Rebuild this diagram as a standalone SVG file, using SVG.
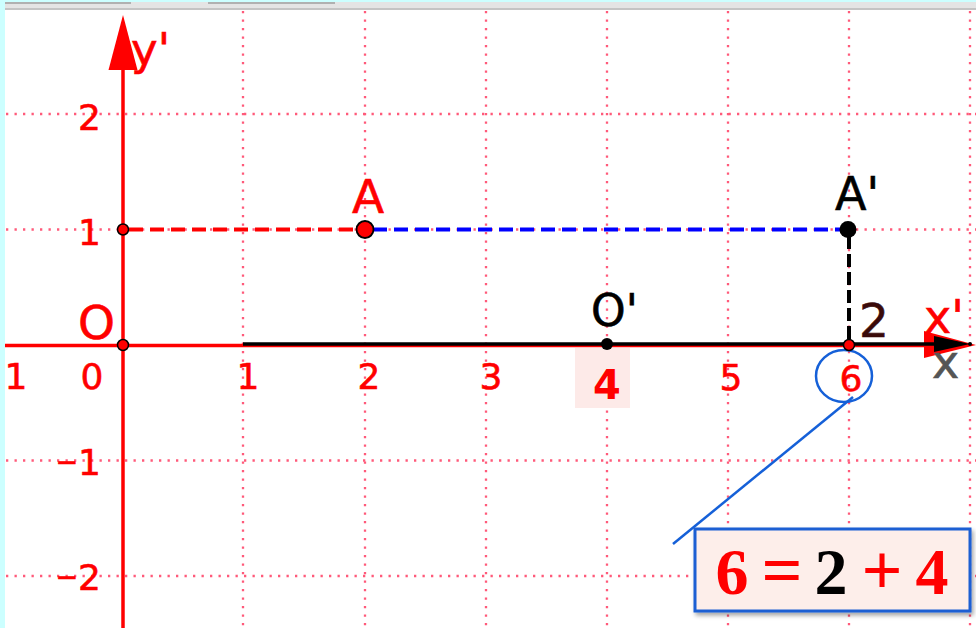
<svg xmlns="http://www.w3.org/2000/svg" width="976" height="628" viewBox="0 0 976 628">
<defs>
<style>
.grid{stroke:#ff5a7a;stroke-width:2.3;stroke-dasharray:2.3 6.2;fill:none}
.lab{font-family:"DejaVu Sans",sans-serif;stroke-width:0.6}
.tick{font-family:"DejaVu Sans",sans-serif;fill:#ff0000;stroke:#ff0000;stroke-width:0.6;font-size:36px}
.eq{font-family:"Liberation Serif",serif;font-weight:bold;font-size:66px;text-anchor:middle}
</style>
<filter id="sh" x="-10%" y="-10%" width="130%" height="140%">
<feDropShadow dx="2" dy="3" stdDeviation="2" flood-color="#000" flood-opacity="0.35"/>
</filter>
</defs>
<rect width="976" height="628" fill="#ffffff"/>
<rect x="0" y="0" width="976" height="2" fill="#ccffff"/>
<rect x="0" y="0" width="5" height="628" fill="#ccffff"/>
<rect x="5" y="2" width="971" height="7" fill="#e4e4e4"/>
<rect x="5" y="2" width="126" height="2" fill="#b0b0b0"/>
<rect x="208" y="2" width="127" height="2" fill="#b0b0b0"/>
<rect x="5" y="8" width="971" height="2" fill="#c4c4c4"/>
<g id="grid">
<line class="grid" x1="6" y1="114" x2="976" y2="114"/>
<line class="grid" x1="6" y1="229.5" x2="976" y2="229.5"/>
<line class="grid" x1="6" y1="460.5" x2="976" y2="460.5"/>
<line class="grid" x1="6" y1="576" x2="976" y2="576"/>
<line class="grid" x1="243" y1="11" x2="243" y2="628"/>
<line class="grid" x1="365" y1="11" x2="365" y2="628"/>
<line class="grid" x1="486" y1="11" x2="486" y2="628"/>
<line class="grid" x1="607" y1="11" x2="607" y2="628"/>
<line class="grid" x1="728" y1="11" x2="728" y2="628"/>
<line class="grid" x1="849" y1="11" x2="849" y2="628"/>
<line class="grid" x1="970" y1="11" x2="970" y2="628"/>
</g>
<g id="axes">
<line x1="123" y1="628" x2="123" y2="66" stroke="#ff0000" stroke-width="3.5"/>
<polygon points="123,15 108.5,70 137.5,70" fill="#ff0000"/>
<line x1="5" y1="345.5" x2="930" y2="345.5" stroke="#ff0000" stroke-width="3.5"/>
<polygon points="924,331 976,345 924,358" fill="#ff0000"/>
<line x1="243" y1="344" x2="940" y2="344" stroke="#000000" stroke-width="3.5"/>
<polygon points="934,336 970,344 934,352" fill="#000000"/>
<circle cx="970" cy="344" r="2" fill="#000"/>
</g>
<g id="connectors">
<line x1="129" y1="229.5" x2="365" y2="229.5" stroke="#ff0000" stroke-width="4" stroke-dasharray="14 7"/>
<line x1="373" y1="229.5" x2="849" y2="229.5" stroke="#0000ff" stroke-width="4" stroke-dasharray="14 7"/>
<line x1="849" y1="236" x2="849" y2="345" stroke="#000000" stroke-width="4" stroke-dasharray="13 5"/>
<line x1="853" y1="397" x2="673" y2="544" stroke="#1560d8" stroke-width="2.5"/>
</g>
<g id="ticks">
<text class="tick" x="16" y="389" text-anchor="middle">1</text>
<text class="tick" x="92" y="389" text-anchor="middle">0</text>
<text class="tick" x="248" y="389" text-anchor="middle">1</text>
<text class="tick" x="369" y="389" text-anchor="middle">2</text>
<text class="tick" x="491" y="389" text-anchor="middle">3</text>
<text class="tick" x="731" y="390" text-anchor="middle">5</text>
<text class="tick" x="851" y="391" text-anchor="middle">6</text>
<text class="tick" x="101" y="130" text-anchor="end">2</text>
<text class="tick" x="101" y="245" text-anchor="end">1</text>
<text class="tick" x="101" y="475" text-anchor="end"><tspan font-size="27" dy="-4">−</tspan><tspan dy="4">1</tspan></text>
<text class="tick" x="101" y="590" text-anchor="end"><tspan font-size="27" dy="-4">−</tspan><tspan dy="4">2</tspan></text>
</g>
<g id="tick4">
<rect x="575" y="348" width="55" height="60" fill="#fdeae8"/>
<text x="607" y="399" text-anchor="middle" font-family="DejaVu Sans, sans-serif" font-weight="bold" font-size="40" fill="#ff0000">4</text>
</g>
<g id="circle6">
<ellipse cx="844" cy="376" rx="28" ry="26" fill="none" stroke="#1560d8" stroke-width="2.5"/>
</g>
<g id="P1">
<circle cx="123" cy="229.5" r="5.5" fill="#ff0000" stroke="#000" stroke-width="1.5"/>
</g>
<g id="A">
<circle cx="365" cy="229.5" r="8.5" fill="#ff0000" stroke="#000" stroke-width="1.8"/>
<text class="lab" x="368" y="213" text-anchor="middle" font-size="47" fill="#ff0000" stroke="#ff0000">A</text>
</g>
<g id="Aprime">
<circle cx="848" cy="229.5" r="8.5" fill="#000"/>
<text class="lab" x="835" y="210" font-size="46" fill="#000" stroke="#000">A'</text>
</g>
<g id="O">
<circle cx="123" cy="345" r="5.5" fill="#ff0000" stroke="#000" stroke-width="1.5"/>
<text class="lab" x="78" y="339" font-size="47" fill="#ff0000" stroke="#ff0000">O</text>
</g>
<g id="Oprime">
<circle cx="607" cy="344" r="6" fill="#000"/>
<text class="lab" x="591" y="326" font-size="44" fill="#000" stroke="#000">O'</text>
</g>
<g id="P6">
<circle cx="849" cy="345" r="5.5" fill="#ff0000" stroke="#000" stroke-width="1.5"/>
<text class="lab" x="859" y="337" font-size="47" fill="#3a0a0a" stroke="#3a0a0a">2</text>
</g>
<g id="yprime">
<text class="lab" x="131" y="65" font-size="45" fill="#ff0000" stroke="#ff0000">y'</text>
</g>
<g id="xprime">
<text class="lab" x="924" y="333" font-size="46" fill="#ff0000" stroke="#ff0000">x'</text>
</g>
<g id="xlabel">
<text class="lab" x="932" y="378" font-size="46" fill="#555555" stroke="#555555">x</text>
</g>
<g id="eqbox">
<rect x="695" y="529" width="275" height="82" fill="#fdeeea" stroke="#1a5fd3" stroke-width="3" filter="url(#sh)"/>
<text class="eq" y="594"><tspan x="732" fill="#ff0000">6</tspan><tspan x="782" fill="#ff0000" font-size="72">=</tspan><tspan x="831" fill="#000000">2</tspan><tspan x="882" fill="#ff0000" font-size="72">+</tspan><tspan x="932" fill="#ff0000">4</tspan></text>
</g>
</svg>
